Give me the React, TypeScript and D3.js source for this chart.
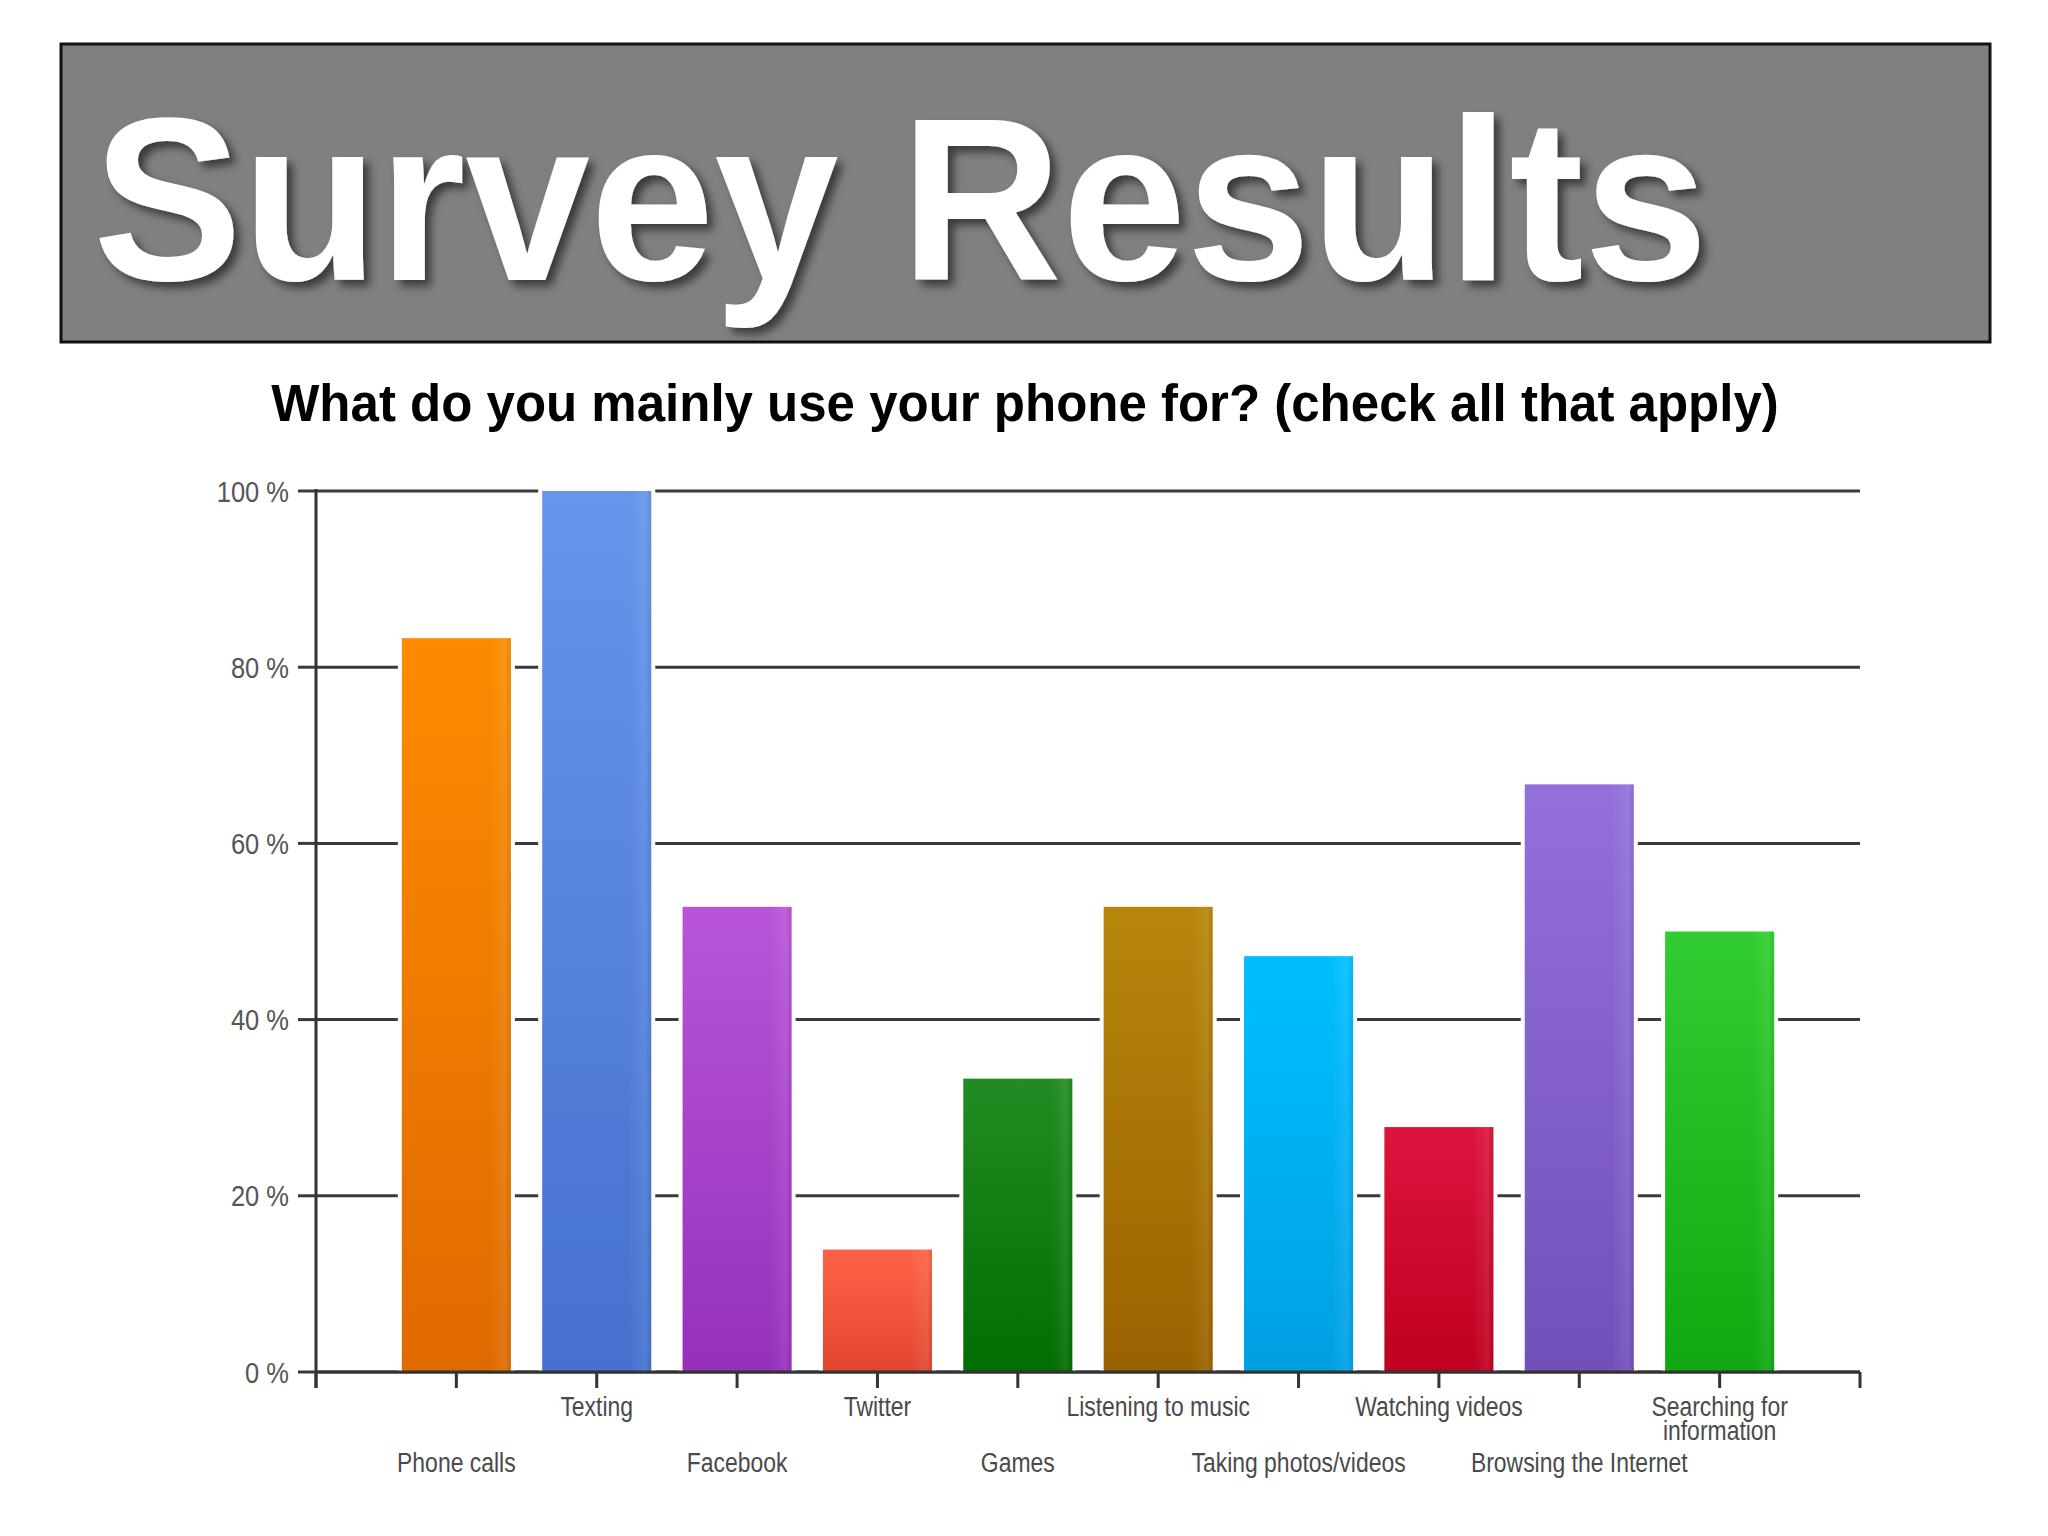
import React from "react";
import * as d3 from "d3";

const categories = [
  "Phone calls",
  "Texting",
  "Facebook",
  "Twitter",
  "Games",
  "Listening to music",
  "Taking photos/videos",
  "Watching videos",
  "Browsing the Internet",
  "Searching for information",
];
const values = [83.3, 100, 52.8, 13.9, 33.3, 52.8, 47.2, 27.8, 66.7, 50];
const topColors = ["#fb8c00", "#6595ec", "#b955d9", "#ff6347", "#238b23", "#b8860b", "#00bfff", "#dc143c", "#9370db", "#32cd32"];
const bottomColors = ["#df6a00", "#4671cf", "#9630ba", "#e2452e", "#006e00", "#9a6200", "#00a0e2", "#bf0020", "#7250b9", "#10a810"];
const yTicks = [0, 20, 40, 60, 80, 100];
const labelLines: string[][] = [
  ["Phone calls"],
  ["Texting"],
  ["Facebook"],
  ["Twitter"],
  ["Games"],
  ["Listening to music"],
  ["Taking photos/videos"],
  ["Watching videos"],
  ["Browsing the Internet"],
  ["Searching for", "information"],
];

const W = 2048;
const H = 1536;
const X0 = 316;
const X1 = 1860;
const Y0 = 1372;
const Y100 = 491;

export default function App() {
  const step = (X1 - X0) / (categories.length + 1);
  const x = d3
    .scaleBand<string>()
    .domain(categories)
    .range([X0 + step / 2, X1 - step / 2])
    .paddingInner(0)
    .paddingOuter(0);
  const y = d3.scaleLinear().domain([0, 100]).range([Y0, Y100]);
  const bw = x.bandwidth() * 0.777;
  const labelFont = "'Liberation Sans', Arial, sans-serif";
  const squeeze = 0.85;

  return (
    <svg
      width={W}
      height={H}
      viewBox={`0 0 ${W} ${H}`}
      style={{ position: "absolute", left: 0, top: 0, background: "#fff" }}
    >
      <defs>
        {categories.map((c, i) => (
          <linearGradient key={c} id={`g${i}`} x1="0" y1="0" x2="0" y2="1">
            <stop offset="0%" stopColor={topColors[i]} />
            <stop offset="100%" stopColor={bottomColors[i]} />
          </linearGradient>
        ))}
        <linearGradient id="sheen" x1="0" y1="0" x2="1" y2="0">
          <stop offset="0%" stopColor="#fff" stopOpacity={0} />
          <stop offset="80%" stopColor="#fff" stopOpacity={0} />
          <stop offset="95%" stopColor="#fff" stopOpacity={0.08} />
          <stop offset="100%" stopColor="#000" stopOpacity={0.05} />
        </linearGradient>
        <filter id="shadow" x="-5%" y="-20%" width="110%" height="140%">
          <feDropShadow dx="6" dy="6" stdDeviation="4" floodColor="#000" floodOpacity="0.55" />
        </filter>
      </defs>

      {/* Title banner */}
      <rect x={61} y={44} width={1929} height={298} fill="#808080" stroke="#111" strokeWidth={3} />
      <text
        x={93}
        y={280}
        fill="#fff"
        fontFamily="'Liberation Sans', Arial, Helvetica, sans-serif"
        fontWeight="bold"
        fontSize={232}
        textLength={1615}
        lengthAdjust="spacingAndGlyphs"
        filter="url(#shadow)"
      >
        Survey Results
      </text>

      {/* Subtitle */}
      <text
        x={1025}
        y={421}
        textAnchor="middle"
        fill="#000"
        fontFamily="'Liberation Sans', Arial, Helvetica, sans-serif"
        fontWeight="bold"
        fontSize={51}
      >
        What do you mainly use your phone for? (check all that apply)
      </text>

      {/* Gridlines */}
      {yTicks.map((t) => (
        <line key={`gl${t}`} x1={X0} x2={X1} y1={y(t)} y2={y(t)} stroke="#3a3a3a" strokeWidth={3} />
      ))}

      {/* Y tick marks and labels */}
      {yTicks.map((t) => (
        <g key={`yt${t}`}>
          <line x1={X0 - 18} x2={X0} y1={y(t)} y2={y(t)} stroke="#3a3a3a" strokeWidth={3} />
          <text
            transform={`translate(289,${y(t)}) scale(${squeeze},1)`}
            dy="0.35em"
            textAnchor="end"
            fill="#555"
            fontFamily={labelFont}
            fontSize={30}
          >
            {`${t} %`}
          </text>
        </g>
      ))}

      {/* Bars with white halo */}
      {categories.map((c, i) => {
        const cx = (x(c) as number) + x.bandwidth() / 2;
        const top = y(values[i]);
        return (
          <g key={c}>
            <rect x={cx - bw / 2 - 4} y={top - 3} width={bw + 8} height={Y0 - top + 3} fill="#fff" />
            <rect x={cx - bw / 2} y={top} width={bw} height={Y0 - top} fill={`url(#g${i})`} />
            <rect x={cx - bw / 2} y={top} width={bw} height={Y0 - top} fill="url(#sheen)" />
          </g>
        );
      })}

      {/* Axes */}
      <line x1={X0} x2={X0} y1={Y100 - 2} y2={Y0 + 16} stroke="#333" strokeWidth={3} />
      <line x1={X0} x2={X1} y1={Y0} y2={Y0} stroke="#333" strokeWidth={3} />
      {[X0, ...categories.map((c) => (x(c) as number) + x.bandwidth() / 2), X1].map((tx, i) => (
        <line key={`xt${i}`} x1={tx} x2={tx} y1={Y0} y2={Y0 + 16} stroke="#333" strokeWidth={3} />
      ))}

      {/* X labels, alternating rows */}
      {categories.map((c, i) => {
        const cx = (x(c) as number) + x.bandwidth() / 2;
        const baseY = i % 2 === 1 ? 1416 : 1472;
        return (
          <text
            key={`xl${c}`}
            transform={`translate(${cx},${baseY}) scale(${squeeze},1)`}
            textAnchor="middle"
            fill="#4a4a4a"
            fontFamily={labelFont}
            fontSize={27}
          >
            {labelLines[i].map((ln, k) => (
              <tspan key={k} x={0} dy={k === 0 ? 0 : 24}>
                {ln}
              </tspan>
            ))}
          </text>
        );
      })}
    </svg>
  );
}
